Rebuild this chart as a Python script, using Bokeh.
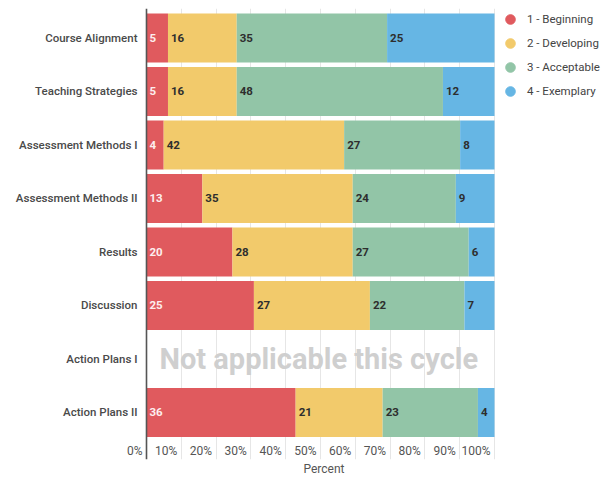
import numpy as np
from bokeh.plotting import figure
from bokeh.models import (ColumnDataSource, Range1d, FixedTicker, Label, Span,
                          Legend, LegendItem, Title)
from bokeh.core.properties import value
from bokeh.embed import file_html
from bokeh.resources import INLINE

# ---------------- data ----------------
categories = ["Course Alignment", "Teaching Strategies", "Assessment Methods I",
              "Assessment Methods II", "Results", "Discussion", "Action Plans I",
              "Action Plans II"]
beginning = [5, 5, 4, 13, 20, 25, 0, 36]
developing = [16, 16, 42, 35, 28, 27, 0, 21]
acceptable = [35, 48, 27, 24, 27, 22, 0, 23]
exemplary = [25, 12, 8, 9, 6, 7, 0, 4]
series_names = ["1 - Beginning", "2 - Developing", "3 - Acceptable", "4 - Exemplary"]
colors = ["#E05A5E", "#F2CA6B", "#92C5A7", "#66B6E4"]
x_ticks = [0, 10, 20, 30, 40, 50, 60, 70, 80, 90, 100]
x_tick_labels = ["0%", "10%", "20%", "30%", "40%", "50%", "60%", "70%", "80%", "90%", "100%"]
x_axis_title = "Percent"
na_category = "Action Plans I"
na_note = "Not applicable this cycle"

FONT = "Roboto"
LABEL_FONT = "Roboto Medium, Roboto"

# ---------------- derived (percent of each row) ----------------
counts = np.array([beginning, developing, acceptable, exemplary], dtype=float)
totals = counts.sum(axis=0)
pct = np.divide(counts * 100.0, totals, out=np.zeros_like(counts), where=totals > 0)
starts = np.cumsum(pct, axis=0) - pct
rows = list(range(len(categories)))

stack_cols = ["s0", "s1", "s2", "s3"]
src = ColumnDataSource(dict(row=rows, **{c: pct[i] for i, c in enumerate(stack_cols)}))

p = figure(width=611, height=477,
           x_range=Range1d(-7.471, 133.62), y_range=Range1d(7.879, -0.551),
           output_backend="svg", toolbar_location=None, x_axis_location=None,
           min_border_left=120, min_border_right=0, min_border_top=8,
           min_border_bottom=18)
p.outline_line_color = None
p.background_fill_color = "white"

bars = p.hbar_stack(stack_cols, y="row", height=0.916, source=src,
                    fill_color=colors, line_color=None)

# value labels inside segments
lx, ly, lt, lc = [], [], [], []
for i in range(4):
    for j in rows:
        if counts[i, j] > 0:
            lx.append(starts[i, j])
            ly.append(j)
            lt.append(str(int(counts[i, j])))
            lc.append("#FDEEEE" if i == 0 else "#2E2E2E")
lsrc = ColumnDataSource(dict(x=lx, y=ly, text=lt, color=lc))
p.text(x="x", y="y", text="text", source=lsrc, text_color="color", x_offset=3,
       text_align="left", text_baseline="middle", text_font=value(FONT),
       text_font_style="bold", text_font_size="11.5px")

# not applicable note
p.add_layout(Label(x=49.5, y=categories.index(na_category), text=na_note,
                   text_align="center", text_baseline="middle",
                   text_font=FONT, text_font_style="bold",
                   text_font_size="29px", text_color="#CFCFCF"))

# x tick labels (right-aligned, just left of each gridline)
tick_y = (451 - 37.5) / 53.5
for t, s in zip(x_ticks, x_tick_labels):
    p.add_layout(Label(x=t, y=tick_y, text=s, x_offset=-4,
                       text_align="right", text_baseline="middle",
                       text_font=FONT, text_font_size="12px",
                       text_color="#555555"))

# zero line (the visible left axis line)
p.add_layout(Span(location=0, dimension="height", line_color="#555555",
                  line_width=1.6))

# x axis title, centred under the 0-100 % span
p.add_layout(Title(text=x_axis_title, align="left", offset=183, standoff=0,
                   text_font=FONT, text_font_style="normal",
                   text_font_size="12px", text_color="#555555"), "below")

# y axis
p.yaxis.ticker = FixedTicker(ticks=rows)
p.yaxis.major_label_overrides = {i: c for i, c in enumerate(categories)}
p.yaxis.major_tick_line_color = None
p.yaxis.minor_tick_line_color = None
p.yaxis.major_tick_out = 0
p.yaxis.major_tick_in = 0
p.yaxis.major_label_standoff = -17
p.yaxis.axis_line_color = None
p.yaxis.major_label_text_font = LABEL_FONT
p.yaxis.major_label_text_font_style = "normal"
p.yaxis.major_label_text_font_size = "11.5px"
p.yaxis.major_label_text_color = "#4A4A4A"

p.ygrid.grid_line_color = None
p.xgrid.ticker = FixedTicker(ticks=x_ticks[1:])
p.xgrid.grid_line_color = "#E6E6E6"
p.xgrid.grid_line_width = 1

# legend with circle markers (legend-only renderers, no visible points)
items = []
for name, c in zip(series_names, colors):
    r = p.scatter(x=[np.nan], y=[np.nan], marker="circle", size=10,
                  fill_color=c, line_color=c)
    items.append(LegendItem(label=name, renderers=[r]))
legend = Legend(items=items, location=(378, 356), glyph_width=24, glyph_height=24,
                label_height=24, spacing=0, padding=0, margin=0, label_standoff=5,
                label_text_font=FONT, label_text_font_size="11.5px",
                label_text_color="#444444", background_fill_alpha=0,
                border_line_color=None)
p.add_layout(legend)

open("out.html", "w").write(file_html(p, INLINE))
